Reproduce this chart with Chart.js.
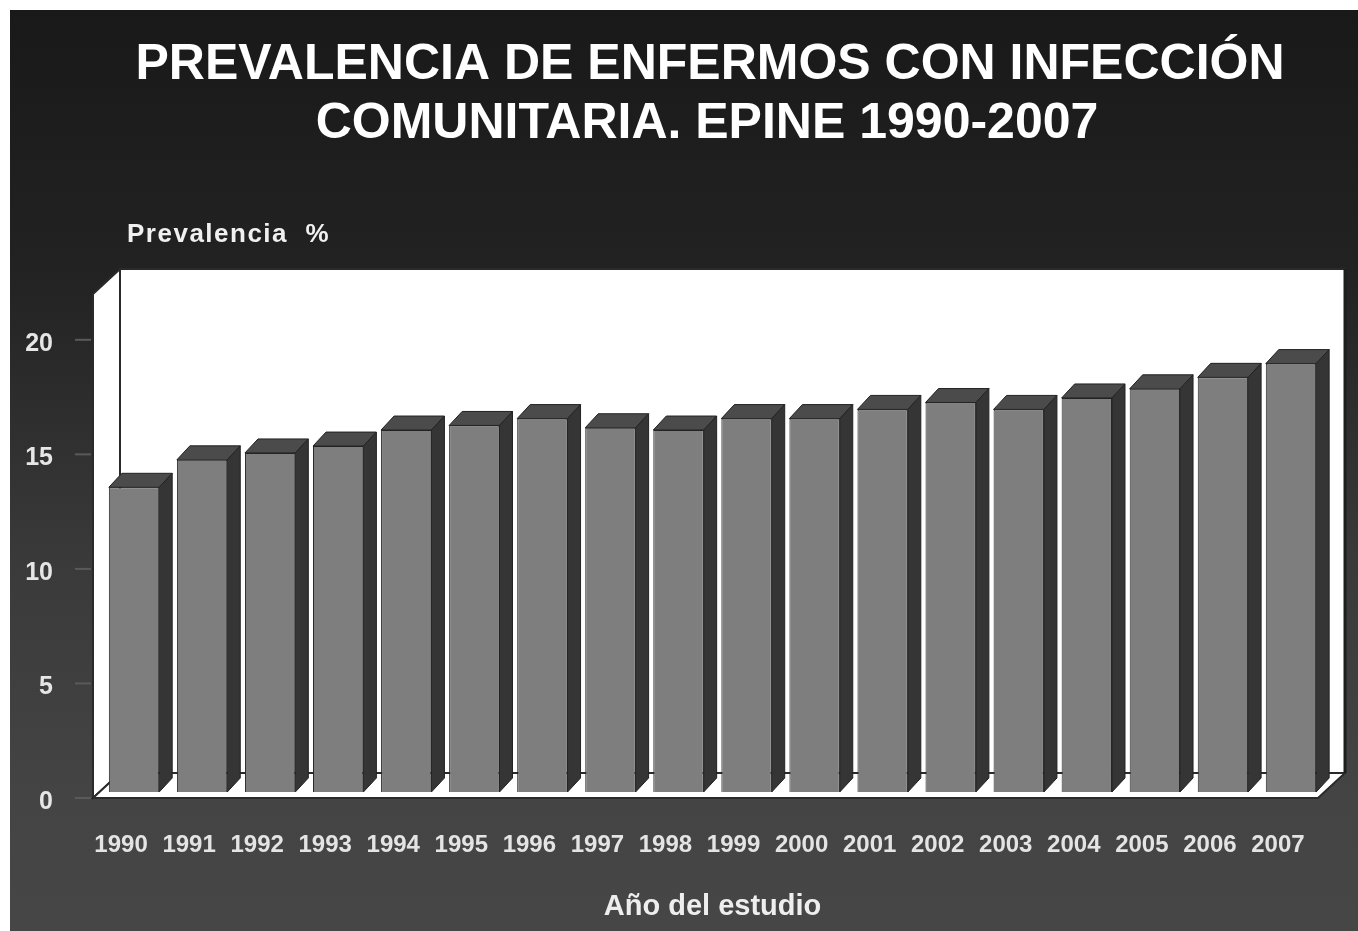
<!DOCTYPE html>
<html>
<head>
<meta charset="utf-8">
<title>Prevalencia de enfermos con infección comunitaria</title>
<script src="https://cdn.jsdelivr.net/npm/chart.js@4.4.1/dist/chart.umd.min.js"></script>
<style>
  html, body { margin: 0; padding: 0; background: #fff; }
  canvas { display: block; }
</style>
</head>
<body>
<canvas id="epine-chart" width="1358" height="931"></canvas>
<script>
// EPINE study years and community-acquired infection prevalence (%)
const years = ["1990", "1991", "1992", "1993", "1994", "1995", "1996", "1997", "1998",
               "1999", "2000", "2001", "2002", "2003", "2004", "2005", "2006", "2007"];
const prevalence = [13.3, 14.5, 14.8, 15.1, 15.8, 16.0, 16.3, 15.9, 15.8,
                    16.3, 16.3, 16.7, 17.0, 16.7, 17.2, 17.6, 18.1, 18.7];
const yTicks = [0, 5, 10, 15, 20];

const titleLines = ["PREVALENCIA DE ENFERMOS CON INFECCIÓN", "COMUNITARIA. EPINE 1990-2007"];
const yAxisLabel = "Prevalencia  %";
const xAxisLabel = "Año del estudio";

// fake 3D: offsets of the box planes relative to the bar front plane
const FRONT = { dx: -7, dy: 6 };
const BACK = { dx: 20, dy: -19 };
const BAR_DEPTH = { dx: 13, dy: -14 };

function poly(ctx, pts, fill, stroke, lw) {
  ctx.beginPath();
  ctx.moveTo(pts[0][0], pts[0][1]);
  for (let i = 1; i < pts.length; i++) ctx.lineTo(pts[i][0], pts[i][1]);
  ctx.closePath();
  if (fill) { ctx.fillStyle = fill; ctx.fill(); }
  if (stroke) { ctx.strokeStyle = stroke; ctx.lineWidth = lw || 1; ctx.stroke(); }
}

const box3d = {
  id: "box3d",
  beforeDraw(chart) {
    const ctx = chart.ctx;
    ctx.save();
    ctx.fillStyle = "#fff";
    ctx.fillRect(0, 0, chart.width, chart.height);
    let bg = ctx.createLinearGradient(0, 10, 0, chart.height);
    bg.addColorStop(0, "#191919");
    bg.addColorStop(0.28, "#222222");
    bg.addColorStop(0.6, "#3a3a3a");
    bg.addColorStop(0.85, "#444444");
    bg.addColorStop(1, "#464646");
    ctx.fillStyle = bg;
    ctx.fillRect(10, 10, chart.width - 10, chart.height - 10);
    ctx.restore();
  },
  beforeDatasetsDraw(chart) {
    const { ctx, chartArea: a } = chart;
    const L = a.left, R = a.right, T = a.top, B = a.bottom;
    ctx.save();
    // back wall
    poly(ctx, [[L + BACK.dx, T + BACK.dy], [R + BACK.dx, T + BACK.dy],
               [R + BACK.dx, B + BACK.dy], [L + BACK.dx, B + BACK.dy]], "#ffffff", "#2a2a2a", 2);
    // left side wall
    poly(ctx, [[L + FRONT.dx, T + FRONT.dy], [L + BACK.dx, T + BACK.dy],
               [L + BACK.dx, B + BACK.dy], [L + FRONT.dx, B + FRONT.dy]], "#ffffff", "#2a2a2a", 2);
    // floor
    poly(ctx, [[L + FRONT.dx, B + FRONT.dy], [R + FRONT.dx, B + FRONT.dy],
               [R + BACK.dx, B + BACK.dy], [L + BACK.dx, B + BACK.dy]], "#ffffff", "#2a2a2a", 2);
    // right edge of back wall a bit heavier
    ctx.strokeStyle = "#1e1e1e";
    ctx.lineWidth = 3;
    ctx.beginPath();
    ctx.moveTo(R + BACK.dx, T + BACK.dy);
    ctx.lineTo(R + BACK.dx, B + BACK.dy);
    ctx.stroke();

    // tick marks on the front edge of the side wall
    const ys = chart.scales.y;
    ctx.strokeStyle = "#5a5a5a";
    ctx.lineWidth = 2;
    yTicks.forEach(v => {
      const py = ys.getPixelForValue(v) + FRONT.dy;
      ctx.beginPath();
      ctx.moveTo(L + FRONT.dx - 18, py);
      ctx.lineTo(L + FRONT.dx - 2, py);
      ctx.stroke();
    });
    ctx.restore();
  },
  afterDatasetsDraw(chart) {
    const ctx = chart.ctx;
    const meta = chart.getDatasetMeta(0);
    ctx.save();
    meta.data.forEach(bar => {
      const { x, y, base, width } = bar.getProps(["x", "y", "base", "width"], true);
      const l = x - width / 2, r = x + width / 2;
      const dx = BAR_DEPTH.dx, dy = BAR_DEPTH.dy;
      // top cap
      poly(ctx, [[l, y], [r, y], [r + dx, y + dy], [l + dx, y + dy]], "#4b4b4b", "#222", 1);
      // right side
      poly(ctx, [[r, y], [r + dx, y + dy], [r + dx, base + dy], [r, base]], "#353535", "#222", 1);
    });
    ctx.restore();
  },
  afterDraw(chart) {
    const ctx = chart.ctx;
    ctx.save();
    ctx.fillStyle = "#ffffff";
    ctx.textAlign = "center";
    ctx.textBaseline = "alphabetic";
    ctx.font = "bold 50px 'Liberation Sans', Arial, sans-serif";
    ctx.fillText(titleLines[0], 710, 79);
    ctx.fillText(titleLines[1], 707, 138);

    ctx.textAlign = "left";
    ctx.font = "bold 26px 'Liberation Sans', Arial, sans-serif";
    ctx.letterSpacing = "1.5px";
    ctx.fillStyle = "#f0f0f0";
    ctx.fillText(yAxisLabel, 127, 242);
    ctx.restore();
  }
};

const ctx = document.getElementById("epine-chart").getContext("2d");

new Chart(ctx, {
  type: "bar",
  data: {
    labels: years,
    datasets: [{
      data: prevalence,
      backgroundColor: "#7e7e7e",
      borderColor: "#262626",
      borderWidth: 1,
      barPercentage: 0.74,
      categoryPercentage: 1.0,
    }],
  },
  options: {
    responsive: false,
    animation: false,
    devicePixelRatio: 1,
    layout: {
      padding: { left: 0, right: 33, top: 288, bottom: 0 },
    },
    plugins: {
      legend: { display: false },
      title: { display: false },
      tooltip: { enabled: false },
    },
    scales: {
      x: {
        grid: { display: false, drawTicks: false },
        border: { display: false },
        ticks: {
          color: "#e4e4e4",
          padding: 39,
          labelOffset: -13,
          maxRotation: 0,
          autoSkip: false,
          font: { family: "'Liberation Sans', Arial, sans-serif", weight: "bold", size: 24 },
        },
        title: {
          display: true,
          text: xAxisLabel,
          color: "#eeeeee",
          padding: { top: 0, bottom: 7 },
          font: { family: "'Liberation Sans', Arial, sans-serif", weight: "bold", size: 29 },
        },
        afterFit(scale) { scale.height = 139; },
      },
      y: {
        min: 0,
        max: 22,
        grid: { display: false, drawTicks: false },
        border: { display: false },
        afterBuildTicks(scale) { scale.ticks = yTicks.map(v => ({ value: v })); },
        ticks: {
          color: "#e6e6e6",
          padding: 47,
          labelOffset: 10,
          font: { family: "'Liberation Sans', Arial, sans-serif", weight: "bold", size: 25 },
        },
        afterFit(scale) { scale.width = 100; },
      },
    },
  },
  plugins: [box3d],
});
</script>
</body>
</html>
